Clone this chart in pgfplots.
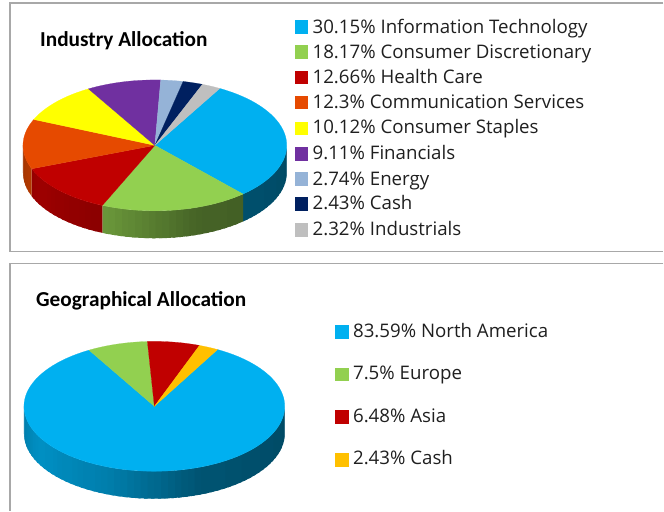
\documentclass[border=0pt]{standalone}
\usepackage{pgfplots}
\usepackage{fontspec}
\pgfplotsset{compat=1.18}
\setmainfont{Open Sans}
\newfontfamily\titlefont{Carlito}
\definecolor{cA}{HTML}{00B0F0}
\definecolor{cB}{HTML}{92D050}
\definecolor{cC}{HTML}{C00000}
\definecolor{cD}{HTML}{E64A00}
\definecolor{cE}{HTML}{FFFF00}
\definecolor{cF}{HTML}{7030A0}
\definecolor{cG}{HTML}{95B3D7}
\definecolor{cH}{HTML}{002060}
\definecolor{cI}{HTML}{BFBFBF}
\definecolor{cJ}{HTML}{FFC000}
\definecolor{frame}{HTML}{A8A8A8}
\newcommand{\addwedge}[7]{%
  \xdef\pts{(#1,#2)}%
  \pgfmathtruncatemacro\nn{max(2,ceil((#5-(#6))/3))}%
  \foreach \i in {0,...,\nn}{%
    \pgfmathsetmacro\tw{#5+((#6)-(#5))/\nn*\i}%
    \pgfmathsetmacro\xx{#1+#3*cos(\tw)}%
    \pgfmathsetmacro\yy{#2-#4*sin(\tw)}%
    \xdef\pts{\pts (\xx,\yy)}%
  }%
  \edef\tmp{\noexpand\addplot[fill=#7,draw=#7,line width=.2pt] coordinates {\pts} -- cycle;}\tmp
}
% side strips: cx cy rx ry depth t1 t2 colour
\newcommand{\addside}[8]{%
  \pgfmathsetmacro\hi{min(#6,0)}%
  \pgfmathsetmacro\lo{max(#7,-180)}%
  \pgfmathtruncatemacro\has{\hi>\lo ? 1 : 0}%
  \ifnum\has=1
    \pgfmathtruncatemacro\nn{max(1,ceil((\hi-\lo)/3))}%
    \pgfmathtruncatemacro\nm{\nn-1}%
    \foreach \i in {0,...,\nm}{%
      \pgfmathsetmacro\ta{\hi+(\lo-\hi)/\nn*\i}%
      \pgfmathsetmacro\tb{\hi+(\lo-\hi)/\nn*(\i+1)}%
      \pgfmathsetmacro\tm{(\ta+\tb)/2}%
      \pgfmathsetmacro\te{\i<\nm ? \tb-1.5 : \tb}%
      \pgfmathtruncatemacro\pct{\tm<-150 ? 70+12*(\tm+180)/30 : (\tm<-110 ? 82-10*(\tm+150)/40 : (\tm<-70 ? 72-24*(\tm+110)/40 : 48-6*(\tm+70)/70))}%
      \pgfmathsetmacro\xa{#1+#3*cos(\ta)}%
      \pgfmathsetmacro\ya{#2-#4*sin(\ta)}%
      \pgfmathsetmacro\xb{#1+#3*cos(\te)}%
      \pgfmathsetmacro\yb{#2-#4*sin(\te)}%
      \pgfmathsetmacro\yc{\yb+#5}%
      \pgfmathsetmacro\yd{\ya+#5}%
      \edef\tmp{\noexpand\addplot[fill=#8!\pct!black,draw=none] coordinates {(\xa,\ya) (\xb,\yb) (\xb,\yc) (\xa,\yd)} -- cycle;}\tmp
    }%
  \fi
}
% pie: cx cy rx ry depth start list
\newcommand{\addpie}[7]{%
  \xdef\cur{#6}%
  \foreach \v/\c in {#7}{%
    \pgfmathsetmacro\nxt{\cur-\v*3.6}%
    \addside{#1}{#2}{#3}{#4}{#5}{\cur}{\nxt}{\c}%
    \pgfmathsetmacro\nxt{\cur-\v*3.6}%
    \xdef\cur{\nxt}%
  }%
  \xdef\cur{#6}%
  \foreach \v/\c in {#7}{%
    \pgfmathsetmacro\nxt{\cur-\v*3.6}%
    \addwedge{#1}{#2}{#3}{#4}{\cur}{\nxt}{\c}%
    \pgfmathsetmacro\nxt{\cur-\v*3.6}%
    \xdef\cur{\nxt}%
  }%
}
% legend row: square x, square y, text baseline y, colour, text
\newcommand{\legrow}[5]{%
  \addplot[only marks,mark=square*,mark size=6.3pt,mark options={draw=#4,fill=#4}] coordinates {(#1,#2)};
  \pgfmathsetmacro\tx{#1+11.2}%
  \edef\tmp{\noexpand\node[anchor=base west,inner sep=0pt,font=\noexpand\fontsize{18.7}{20}\noexpand\selectfont,text=black!88] at (axis cs:\tx,#3)}\tmp {#5};
}
\begin{document}
\begin{tikzpicture}
\begin{axis}[scale only axis,width=664pt,height=511pt,xmin=0,xmax=664,ymin=0,ymax=511,y dir=reverse,axis lines=none,ticks=none,clip=false]
\path (axis cs:0,0) rectangle (axis cs:664,511);
% frames
\addplot[frame,line width=1.2pt] coordinates {(664,3) (10,3) (10,252) (664,252)};
\addplot[frame,line width=1.2pt] coordinates {(664,263.5) (10,263.5) (10,511)};
% pies
\addpie{155}{145.5}{132}{65.5}{27.5}{60.5}{30.15/cA,18.17/cB,12.66/cC,12.3/cD,10.12/cE,9.11/cF,2.74/cG,2.43/cH,2.32/cI}
\addpie{154.5}{406.7}{130.5}{65}{27.5}{61}{83.59/cA,7.5/cB,6.48/cC,2.43/cJ}
% titles
\node[anchor=base west,inner sep=0pt,font=\titlefont\bfseries\fontsize{21.3}{24}\selectfont] at (axis cs:40,46.3) {Industry Allocation};
\node[anchor=base west,inner sep=0pt,font=\titlefont\bfseries\fontsize{21.3}{24}\selectfont] at (axis cs:36,306.5) {Geographical Allocation};
% legends
\legrow{301.5}{26.7}{33.3}{cA}{30.15\% Information Technology}
\legrow{301.5}{51.7}{58.3}{cB}{18.17\% Consumer Discretionary}
\legrow{301.5}{77.3}{83.3}{cC}{12.66\% Health Care}
\legrow{301.5}{102.3}{108.7}{cD}{12.3\% Communication Services}
\legrow{301.5}{128.3}{134}{cE}{10.12\% Consumer Staples}
\legrow{301.5}{153.7}{160}{cF}{9.11\% Financials}
\legrow{301.5}{179}{185.3}{cG}{2.74\% Energy}
\legrow{301.5}{204}{210}{cH}{2.43\% Cash}
\legrow{301.5}{229.7}{235.3}{cI}{2.32\% Industrials}
\legrow{342}{332}{338.3}{cA}{83.59\% North America}
\legrow{342}{374.7}{380}{cB}{7.5\% Europe}
\legrow{342}{417}{422.7}{cC}{6.48\% Asia}
\legrow{342}{460}{465}{cJ}{2.43\% Cash}
\end{axis}
\end{tikzpicture}
\end{document}
